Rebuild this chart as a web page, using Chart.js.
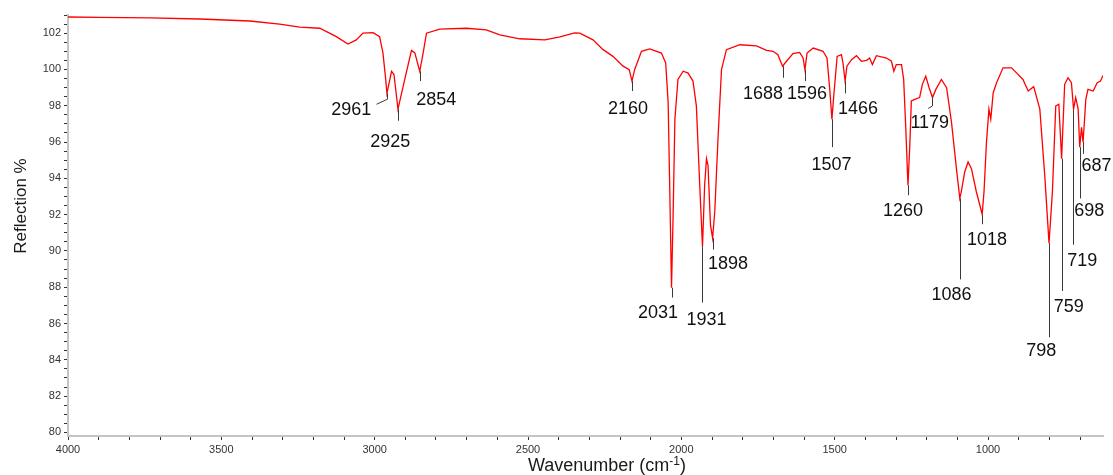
<!DOCTYPE html>
<html>
<head>
<meta charset="utf-8">
<script src="https://cdn.jsdelivr.net/npm/chart.js@4"></script>
<style>
  html, body { margin: 0; padding: 0; background: #fff; }
  #wrap { width: 1113px; height: 475px; }
</style>
</head>
<body>
<div id="wrap"><canvas id="c" width="1113" height="475"></canvas></div>
<script>
// ---- spectrum ----
const wavenumber = [
  4000,3897,3734,3570,3407,3310,3244,3179,3125,3087,
  3060,3038,3005,2984,2973,2964,2960,2945,2937,2924,
  2907,2880,2869,2853,2842,2831,2788,2701,2636,2592,
  2527,2445,2396,2348,2331,2288,2255,2223,2190,2170,
  2161,2152,2130,2103,2065,2051,2043,2038,2032,2027,
  2021,2011,1994,1978,1962,1951,1940,1931,1924,1918,
  1913,1905,1898,1891,1880,1869,1853,1809,1755,1722,
  1701,1685,1670,1657,1636,1614,1603,1597,1590,1570,
  1538,1525,1516,1509,1503,1492,1478,1473,1466,1460,
  1445,1429,1413,1396,1386,1377,1364,1331,1315,1307,
  1299,1282,1275,1268,1261,1255,1250,1239,1223,1214,
  1203,1192,1181,1170,1152,1135,1119,1102,1092,1087,
  1076,1065,1054,1038,1019,1013,1005,997,991,983,
  972,951,923,907,886,869,851,831,815,801,
  790,779,769,760,750,739,728,721,714,706,
  701,695,690,681,674,657,644,633,625
];
const reflection = [
  102.89,102.87,102.84,102.78,102.67,102.5,102.33,102.27,101.81,101.40,
  101.63,102.0,102.03,101.81,100.91,99.45,98.68,99.9,99.72,97.81,
  99.08,101.05,100.91,99.9,100.9,102.0,102.22,102.27,102.18,101.9,
  101.69,101.63,101.8,102.02,102.0,101.63,101.09,100.72,100.18,99.99,
  99.36,100.0,101.0,101.13,100.9,100.36,98.17,93.62,87.97,91.8,
  97.26,99.45,99.9,99.8,99.36,97.99,93.62,90.25,93.62,95.08,
  94.71,91.43,90.7,92.16,96.35,99.99,101.09,101.36,101.3,101.05,
  101.0,100.81,100.18,100.45,100.87,100.94,100.63,99.99,100.9,101.18,
  101.0,100.63,98.9,97.26,98.54,100.72,100.81,100.36,99.36,100.18,
  100.54,100.76,100.45,100.5,100.63,100.27,100.76,100.63,100.45,99.9,
  100.27,100.27,99.45,96.72,93.62,95.8,98.26,98.35,98.45,99.18,
  99.63,98.99,98.45,98.9,99.45,98.99,97.08,94.4,92.89,93.26,
  94.35,94.9,94.53,93.26,92.02,93.26,95.99,97.81,97.26,98.72,
  99.27,100.09,100.09,99.81,99.45,98.81,99.05,97.81,94.16,90.43,
  93.26,97.99,98.08,95.08,99.18,99.54,99.27,97.81,98.45,97.81,
  95.72,96.81,95.99,98.35,98.9,98.81,99.27,99.36,99.67
];

// ---- tick labels ----
const xTickLabels = [4000, 3500, 3000, 2500, 2000, 1500, 1000];
const yTickLabels = [80, 82, 84, 86, 88, 90, 92, 94, 96, 98, 100, 102];

// ---- peak annotations (data space) ----
const peakLabels = ['2961','2925','2854','2160','2031','1931','1898','1688','1596','1507','1466','1260','1179','1086','1018','798','759','719','698','687'];
const peakWn     = [2960,2924,2853,2161,2032,1931,1898,1670,1597,1509,1466,1261,1181,1092,1019,801,760,722,701,690];
const peakTop    = [98.68,97.81,99.9,99.36,87.97,90.25,90.7,100.18,99.99,97.26,99.36,93.62,98.45,92.89,91.98,90.43,95.08,97.72,95.72,96.0];
const peakBottom = [98.36,97.17,99.36,98.81,87.43,87.15,90.07,99.54,99.36,95.72,98.68,93.07,97.99,88.43,91.47,85.24,87.79,90.34,92.89,95.35];
const leaderWn   = [2994,null,null,null,null,null,null,null,null,null,null,null,1195,null,null,null,null,null,null,null];
const leaderVal  = [98.08,null,null,null,null,null,null,null,null,null,null,null,97.85,null,null,null,null,null,null,null];
const labelWn    = [3076,2949,2799,2174,2076,1918,1848,1734,1590,1510,1424,1277,1190,1119,1003,826,737,693,670,646];
const labelVal   = [97.81,96.03,98.36,97.9,86.61,86.24,89.34,98.72,98.72,94.8,97.86,92.25,97.08,87.64,90.67,84.51,86.97,89.49,92.25,94.71];

const points = wavenumber.map((w, i) => ({ x: w, y: reflection[i] }));

const FONT = '"Liberation Sans", Arial, sans-serif';

const bgPlugin = {
  id: 'bg',
  beforeDraw(chart) {
    const ctx = chart.ctx;
    ctx.save();
    ctx.fillStyle = '#ffffff';
    ctx.fillRect(0, 0, chart.width, chart.height);
    ctx.restore();
  }
};

const peakPlugin = {
  id: 'peaks',
  afterDatasetsDraw(chart) {
    const ctx = chart.ctx;
    const xs = chart.scales.x, ys = chart.scales.y;
    ctx.save();
    ctx.strokeStyle = '#3a3a3a';
    ctx.lineWidth = 1;
    ctx.fillStyle = '#111111';
    ctx.font = '18px ' + FONT;
    ctx.textAlign = 'center';
    ctx.textBaseline = 'middle';
    peakLabels.forEach((t, i) => {
      const px = Math.round(xs.getPixelForValue(peakWn[i])) + 0.5;
      const y1 = ys.getPixelForValue(peakTop[i]);
      const y2 = ys.getPixelForValue(peakBottom[i]);
      ctx.beginPath();
      ctx.moveTo(px, y1);
      ctx.lineTo(px, y2);
      if (leaderWn[i] !== null) {
        ctx.lineTo(xs.getPixelForValue(leaderWn[i]), ys.getPixelForValue(leaderVal[i]));
      }
      ctx.stroke();
      ctx.fillText(t, xs.getPixelForValue(labelWn[i]), ys.getPixelForValue(labelVal[i]) + 1);
    });
    ctx.restore();
  }
};

const titlePlugin = {
  id: 'axisTitles',
  afterDraw(chart) {
    const ctx = chart.ctx;
    ctx.save();
    ctx.fillStyle = '#1a1a1a';
    // y title
    ctx.font = '17px ' + FONT;
    ctx.textAlign = 'center';
    ctx.textBaseline = 'middle';
    ctx.translate(21, 206);
    ctx.rotate(-Math.PI / 2);
    ctx.fillText(chart.options.scales.y.title.text, 0, 0);
    ctx.restore();

    // x title with superscript
    ctx.save();
    ctx.fillStyle = '#1a1a1a';
    ctx.textBaseline = 'alphabetic';
    ctx.textAlign = 'left';
    const main1 = 'Wavenumber (cm', sup = '-1', main2 = ')';
    ctx.font = '18px ' + FONT;
    const w1 = ctx.measureText(main1).width, w3 = ctx.measureText(main2).width;
    ctx.font = '12px ' + FONT;
    const w2 = ctx.measureText(sup).width;
    const total = w1 + w2 + w3;
    const cx = 607, base = 471;
    let x = cx - total / 2;
    ctx.font = '18px ' + FONT;
    ctx.fillText(main1, x, base);
    x += w1;
    ctx.font = '12px ' + FONT;
    ctx.fillText(sup, x, base - 6);
    x += w2;
    ctx.font = '18px ' + FONT;
    ctx.fillText(main2, x, base);
    ctx.restore();
  }
};

new Chart(document.getElementById('c'), {
  type: 'line',
  data: {
    datasets: [{
      data: points,
      borderColor: '#ff0000',
      borderWidth: 1.3,
      pointRadius: 0,
      tension: 0,
      fill: false
    }]
  },
  options: {
    responsive: false,
    animation: false,
    events: [],
    layout: { padding: { left: 0, right: 10, top: 15, bottom: 0 } },
    plugins: { legend: { display: false }, tooltip: { enabled: false } },
    scales: {
      x: {
        type: 'linear',
        reverse: true,
        min: 625,
        max: 4000,
        title: { display: false, text: 'Wavenumber (cm⁻¹)' },
        afterBuildTicks(scale) {
          const t = [];
          for (let v = 4000; v >= 700; v -= 100) t.push({ value: v });
          scale.ticks = t;
        },
        afterFit(scale) { scale.height = 39; },
        ticks: {
          autoSkip: false,
          maxRotation: 0,
          padding: 3,
          color: '#333333',
          font: { family: FONT, size: 11 },
          callback: (v) => xTickLabels.includes(v) ? String(v) : ''
        },
        grid: { drawOnChartArea: false, drawTicks: true, tickLength: 4, tickColor: '#333333', color: '#333333' },
        border: { display: true, color: '#c4c4c4', width: 2 }
      },
      y: {
        type: 'linear',
        min: 79.8,
        max: 103,
        title: { display: false, text: 'Reflection %' },
        afterBuildTicks(scale) {
          const t = [];
          for (let v = 80; v <= 103.001; v += 0.5) t.push({ value: Math.round(v * 10) / 10 });
          scale.ticks = t;
        },
        afterFit(scale) { scale.width = 68; },
        ticks: {
          autoSkip: false,
          padding: 3,
          color: '#333333',
          font: { family: FONT, size: 11 },
          callback: (v) => yTickLabels.includes(v) ? String(v) : ''
        },
        grid: { drawOnChartArea: false, drawTicks: true, tickLength: 4, tickColor: '#333333', color: '#333333' },
        border: { display: true, color: '#c4c4c4', width: 2 }
      }
    }
  },
  plugins: [bgPlugin, peakPlugin, titlePlugin]
});
</script>
</body>
</html>
